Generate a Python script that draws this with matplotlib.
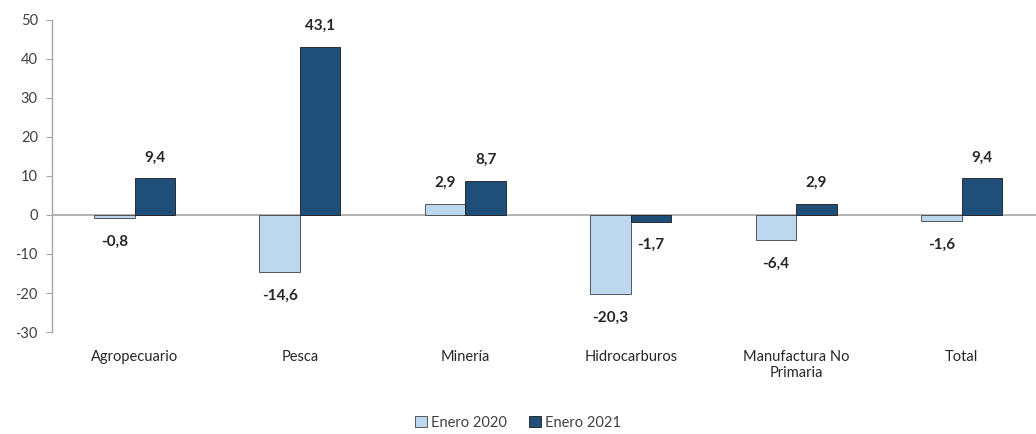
import matplotlib.pyplot as plt
import numpy as np

# datos
categorias = ["Agropecuario", "Pesca", "Minería", "Hidrocarburos", "Manufactura No\nPrimaria", "Total"]
enero_2020 = [-0.8, -14.6, 2.9, -20.3, -6.4, -1.6]
enero_2021 = [9.4, 43.1, 8.7, -1.7, 2.9, 9.4]
ticks_y = [-30, -20, -10, 0, 10, 20, 30, 40, 50]

plt.rcParams['font.family'] = ['Lato', 'DejaVu Sans']

color_claro = "#bdd7ee"
color_oscuro = "#1f4e79"
gris = "#a6a6a6"

fig = plt.figure(figsize=(10.36, 4.34), dpi=100)
ax = fig.add_axes([0.050, 0.235, 0.958, 0.719])

x = np.arange(len(categorias))
ancho = 0.245

b1 = ax.bar(x - ancho / 2, enero_2020, ancho, color=color_claro, edgecolor="#404040", linewidth=0.6, label="Enero 2020")
b2 = ax.bar(x + ancho / 2, enero_2021, ancho, color=color_oscuro, edgecolor="#1a1a1a", linewidth=0.6, label="Enero 2021")

def etiquetar(barras, valores):
    for barra, v in zip(barras, valores):
        cx = barra.get_x() + barra.get_width() / 2
        txt = f"{v:.1f}".replace(".", ",")
        if v >= 0:
            ax.annotate(txt, (cx, v), xytext=(0, 10), textcoords="offset points",
                        ha="center", va="bottom", fontsize=11, fontweight="bold", color="#262626")
        else:
            ax.annotate(txt, (cx, v), xytext=(0, -12), textcoords="offset points",
                        ha="center", va="top", fontsize=11, fontweight="bold", color="#262626")

etiquetar(b1, enero_2020)
etiquetar(b2, enero_2021)

ax.set_xlim(-0.5, len(categorias) - 0.5)
ax.set_ylim(-30, 50)
ax.set_yticks(ticks_y)
ax.set_yticklabels([str(t) for t in ticks_y], fontsize=10.5, color="#404040")
ax.axhline(0, color=gris, linewidth=1.2, zorder=0)

ax.set_xticks(x)
ax.set_xticklabels(categorias, fontsize=10.5, color="#262626")
ax.tick_params(axis="x", length=0, pad=13)
ax.tick_params(axis="y", direction="out", length=4, color=gris, pad=6)

for lado in ["top", "right", "bottom"]:
    ax.spines[lado].set_visible(False)
ax.spines["left"].set_color(gris)
ax.spines["left"].set_linewidth(1.0)

fig.legend(loc="lower center", bbox_to_anchor=(0.5, -0.02), ncol=2, frameon=False,
           fontsize=10.5, handlelength=0.8, handleheight=0.8, handletextpad=0.3, columnspacing=1.5,
           labelcolor="#404040")

plt.savefig("out.png", dpi=100)
